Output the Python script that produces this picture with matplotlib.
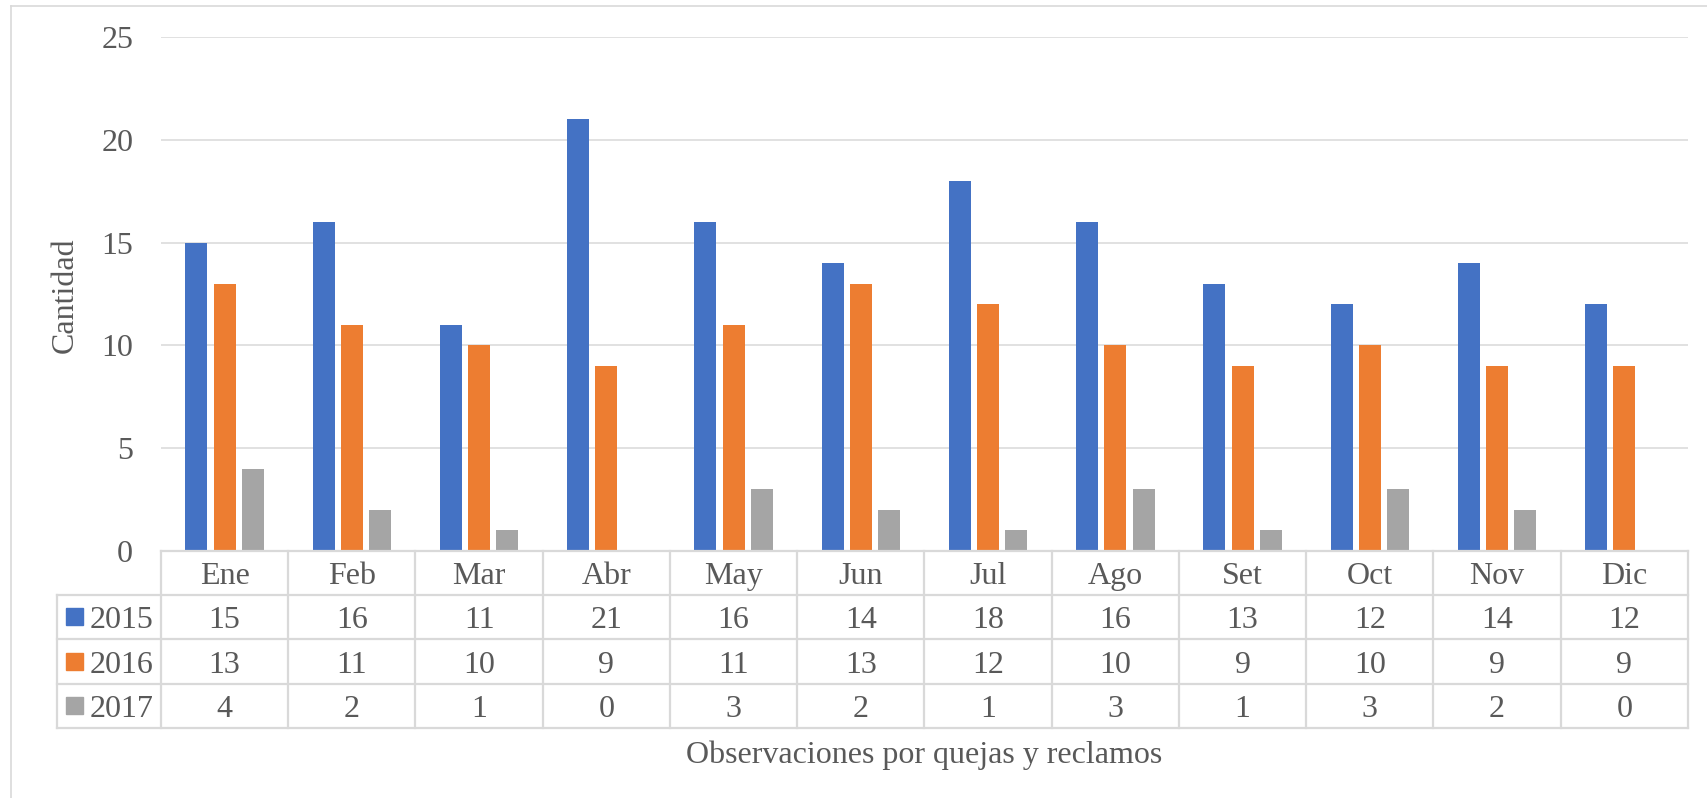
import matplotlib
matplotlib.use("Agg")
import matplotlib.pyplot as plt
from matplotlib.patches import Rectangle
from matplotlib.lines import Line2D
import matplotlib.transforms as mtransforms
import numpy as np

months = ['Ene', 'Feb', 'Mar', 'Abr', 'May', 'Jun', 'Jul', 'Ago', 'Set', 'Oct', 'Nov', 'Dic']
years = ['2015', '2016', '2017']
v2015 = [15, 16, 11, 21, 16, 14, 18, 16, 13, 12, 14, 12]
v2016 = [13, 11, 10, 9, 11, 13, 12, 10, 9, 10, 9, 9]
v2017 = [4, 2, 1, 0, 3, 2, 1, 3, 1, 3, 2, 0]
colors = ['#4472C4', '#ED7D31', '#A5A5A5']

W, H = 1708, 798
txt = '#595959'
line_c = '#D9D9D9'
fs = 23

plt.rcParams['font.family'] = ['Liberation Serif', 'DejaVu Serif']

fig = plt.figure(figsize=(W / 100, H / 100), dpi=100)


def fx(px):
    return px / W


def fy(py):
    return 1 - py / H


ax = fig.add_axes([fx(161), fy(551), fx(1688) - fx(161), fy(37) - fy(551)])

series = [v2015, v2016, v2017]
x = np.arange(len(months))
bw = 0.173
step = 0.222
for k, vals in enumerate(series):
    ax.bar(x + (k - 1) * step, vals, width=bw, color=colors[k], zorder=3)

ax.set_xlim(-0.5, len(months) - 0.5)
ax.set_ylim(0, 25)
ax.set_yticks(range(0, 26, 5))
ax.yaxis.grid(True, color=line_c, linewidth=1.1, zorder=0)
ax.tick_params(axis='y', length=0, pad=20, labelsize=fs, labelcolor=txt)
ax.set_xticks([])
for s in ax.spines.values():
    s.set_visible(False)

# table below the plot
tr = mtransforms.blended_transform_factory(ax.transData, fig.transFigure)
rows = [551, 595, 639, 684, 728]
tcol = dict(color=line_c, linewidth=1.6, clip_on=False, zorder=4)

# horizontal lines
ax.add_line(Line2D([-0.5, 11.5], [fy(rows[0])] * 2, transform=tr, **tcol))
for r in rows[1:]:
    fig.add_artist(Line2D([fx(57), fx(1688)], [fy(r)] * 2, transform=fig.transFigure, **tcol))
# vertical lines
for i in range(len(months) + 1):
    ax.add_line(Line2D([i - 0.5, i - 0.5], [fy(rows[0]), fy(rows[-1])], transform=tr, **tcol))
fig.add_artist(Line2D([fx(57), fx(57)], [fy(rows[1]), fy(rows[-1])], transform=fig.transFigure, **tcol))

# header labels
for i, m in enumerate(months):
    ax.text(i, fy(rows[1] - 11), m, transform=tr, ha='center', va='baseline',
            fontsize=fs, color=txt, clip_on=False)

# values
for k, vals in enumerate(series):
    base = fy(rows[k + 2] - 11)
    for i, v in enumerate(vals):
        ax.text(i, base, str(v), transform=tr, ha='center', va='baseline',
                fontsize=fs, color=txt, clip_on=False)
    fig.add_artist(Rectangle((fx(66), fy(rows[k + 2] - 14)), fx(17), 17 / H,
                             transform=fig.transFigure, color=colors[k]))
    fig.text(fx(90), base, years[k], ha='left', va='baseline', fontsize=fs, color=txt)

# axis titles
fig.text(fx(65), fy(295), 'Cantidad', rotation=90, ha='center', va='center',
         fontsize=fs, color=txt)
fig.text(fx(924), fy(763), 'Observaciones por quejas y reclamos', ha='center',
         va='baseline', fontsize=fs, color=txt)

# chart frame (left and top edge)
fig.add_artist(Line2D([fx(11), fx(11)], [0, fy(6)], transform=fig.transFigure,
                      color=line_c, linewidth=1.2))
fig.add_artist(Line2D([fx(11), 1], [fy(6), fy(6)], transform=fig.transFigure,
                      color=line_c, linewidth=1.2))

fig.savefig('out.png', dpi=100)
